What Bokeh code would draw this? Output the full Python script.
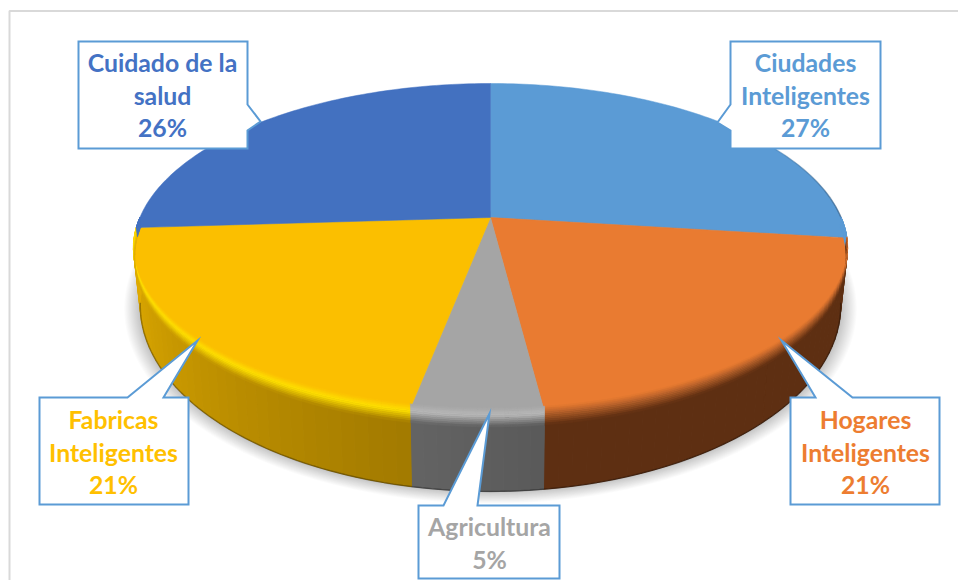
import numpy as np
from bokeh.core.properties import value
from bokeh.embed import file_html
from bokeh.models import Range1d
from bokeh.plotting import figure
from bokeh.resources import INLINE

# Share of each sector, clockwise from twelve o'clock
sectors = ["Ciudades Inteligentes", "Hogares Inteligentes", "Agricultura",
           "Fabricas Inteligentes", "Cuidado de la salud"]
shares = [27, 21, 5, 21, 26]
label_lines = [["Ciudades", "Inteligentes"], ["Hogares", "Inteligentes"], ["Agricultura"],
               ["Fabricas", "Inteligentes"], ["Cuidado de la", "salud"]]

# Colours per sector: top face, text, rim highlight, wall at the left and right of the sector
top_colors = ["#5B9BD5", "#E97B31", "#A5A5A5", "#FBBF00", "#4371C0"]
text_colors = ["#5B9BD5", "#ED7D31", "#A5A5A5", "#FFC000", "#4472C4"]
rim_colors = ["#5B9BD5", "#B4602A", "#B9B9B9", "#FFE000", "#4371C0"]
wall_left = ["#5B9BD5", "#5E2F12", "#5A5A5A", "#A27A00", "#4371C0"]
wall_right = ["#5B9BD5", "#5E2F12", "#636363", "#E4AE00", "#4371C0"]

# Callouts: box (left, right, top, bottom), pointer base and tip, side of the pointer, text centre
callouts = [
    dict(box=(730, 880, 41, 148), side="left", base=(104, 130), tip=(717, 122), cx=805, y0=62),
    dict(box=(790, 939, 397, 504), side="top", base=(815, 852), tip=(781, 340), cx=865, y0=419),
    dict(box=(418, 559, 505, 578), side="top", base=(443, 477), tip=(489, 413), cx=489, y0=526),
    dict(box=(39, 188, 397, 504), side="top", base=(127, 163), tip=(197, 340), cx=113, y0=419),
    dict(box=(78, 247, 41, 148), side="right", base=(104, 130), tip=(260, 121), cx=162, y0=62),
]
LINE_H = 32.5

# Perspective projection of the pie disc onto the page
CX, PERSP = 490.0, 0.188
TOP = dict(R=350.6, cy=217.0, H=159.2)
BOTTOM = dict(R=344.0, cy=270.0, H=179.4)


def project(deg, ring, scale=1.0):
    a = np.radians(deg)
    u, v = np.sin(a) * scale, np.cos(a) * scale
    d = 1 + PERSP * v
    return CX + ring["R"] * u / d, ring["cy"] - ring["H"] * v / d


def rgb(h):
    return np.array([int(h[i:i + 2], 16) for i in (1, 3, 5)], float)


def mix(a, b, t):
    t = min(max(t, 0.0), 1.0)
    c = rgb(a) * (1 - t) + rgb(b) * t
    return "#%02x%02x%02x" % tuple(int(round(x)) for x in c)


p = figure(width=958, height=580, x_range=Range1d(0, 958), y_range=Range1d(580, 0),
           output_backend="svg", toolbar_location=None, min_border=0,
           outline_line_color=None, background_fill_color="white", border_fill_color="white")
p.axis.visible = False
p.grid.visible = False

# Chart frame
p.line([9, 9, 958], [580, 10.5, 10.5], line_color="#D9D9D9", line_width=2)

# Soft shadow under the disc, strongest beside the wall
angles = np.linspace(70, 290, 181)
for n in range(14):
    grow = 1.044 - n * 0.003
    sx, sy = project(angles, BOTTOM, grow)
    p.patch(sx, sy, fill_color="#000000", fill_alpha=0.017, line_color=None)

cum = np.concatenate([[0], np.cumsum(shares)]) / sum(shares) * 360
STEP = 2.0

# Side wall, then the shaded rim band on top of it
BAND_START, BAND_END, BANDS = -0.07, 0.17, 10
wx, wy, wc = [], [], []
bx, by, bc = [], [], []


def band_point(tx, ty, lx, ly, t, deg):
    # The inner part of the band narrows towards the two sides of the disc
    if t < 0:
        t = t * np.clip((np.minimum(deg - 90.0, 270.0 - deg)) / 25.0, 0.0, 1.0)
    return tx + t * (lx - tx), ty + t * (ly - ty)


for i in range(len(shares)):
    a0, a1 = max(cum[i], 90.0), min(cum[i + 1], 270.0)
    if a1 <= a0:
        continue
    edges = np.linspace(a0, a1, int(np.ceil((a1 - a0) / STEP)) + 1)
    for j in range(len(edges) - 1):
        q = (j + 0.5) / (len(edges) - 1)
        wall = mix(wall_left[i], wall_right[i], q)
        seg = edges[j:j + 2]
        tx, ty = project(seg, TOP)
        lx, ly = project(seg, BOTTOM)
        wx.append([tx[0], tx[1], lx[1], lx[0]])
        wy.append([ty[0], ty[1], ly[1], ly[0]])
        wc.append(wall)
        for b in range(BANDS):
            t0 = BAND_START + (BAND_END - BAND_START) * b / BANDS
            t1 = BAND_START + (BAND_END - BAND_START) * (b + 1) / BANDS
            xa, ya = band_point(tx, ty, lx, ly, t0, seg)
            xb, yb = band_point(tx, ty, lx, ly, t1, seg)
            s = (b + 0.5) / BANDS
            col = mix(top_colors[i], rim_colors[i], s / 0.4) if s < 0.4 else mix(rim_colors[i], wall, (s - 0.4) / 0.6)
            bx.append([xa[0], xa[1], xb[1], xb[0]])
            by.append([ya[0], ya[1], yb[1], yb[0]])
            bc.append(col)
p.patches(wx, wy, fill_color=wc, line_color=wc, line_width=1)

# Dark line where the wall meets the ground
gx, gy = project(np.linspace(100, 260, 121), BOTTOM)
p.line(gx, gy, line_color="#000000", line_alpha=0.3, line_width=1.5)

# Top face of the pie
for i in range(len(shares)):
    arc = np.linspace(cum[i], cum[i + 1], 90)
    ax, ay = project(arc, TOP)
    p.patch(np.r_[CX, ax], np.r_[TOP["cy"], ay], fill_color=top_colors[i], line_color=top_colors[i], line_width=0.5)

# Faint dark edge along the back right of the disc
ex, ey, ea = [], [], []
edge_angles = np.arange(50, cum[1], 3.0)
for d in edge_angles:
    sx, sy = project(np.array([d, d + 3.0]), TOP)
    ex.append(list(sx))
    ey.append(list(sy))
    ea.append(float(np.clip((d - 50) / 40, 0, 1)) * 0.45)
p.multi_line(ex, ey, line_color="#1F3A55", line_alpha=ea, line_width=1.5)

p.patches(bx, by, fill_color=bc, line_color=bc, line_width=0.6)

# Callout boxes and their text
for i, c in enumerate(callouts):
    l, r, t, b = c["box"]
    if c["side"] == "top":
        xs = [l, c["base"][0], c["tip"][0], c["base"][1], r, r, l]
        ys = [t, t, c["tip"][1], t, t, b, b]
    elif c["side"] == "left":
        xs = [l, r, r, l, l, c["tip"][0], l]
        ys = [t, t, b, b, c["base"][1], c["tip"][1], c["base"][0]]
    else:
        xs = [l, r, r, c["tip"][0], r, r, l]
        ys = [t, t, c["base"][0], c["tip"][1], c["base"][1], b, b]
    p.patch(xs, ys, fill_color="white", line_color="#5B9BD5", line_width=2, line_join="miter")
    lines = label_lines[i] + [f"{shares[i]}%"]
    p.text([c["cx"]] * len(lines), [c["y0"] + LINE_H * n for n in range(len(lines))], text=lines,
           text_font=value("Lato"), text_font_style="bold", text_font_size=value("24.8px"),
           text_color=text_colors[i], text_align="center", text_baseline="middle")

open("out.html", "w").write(file_html(p, INLINE))
